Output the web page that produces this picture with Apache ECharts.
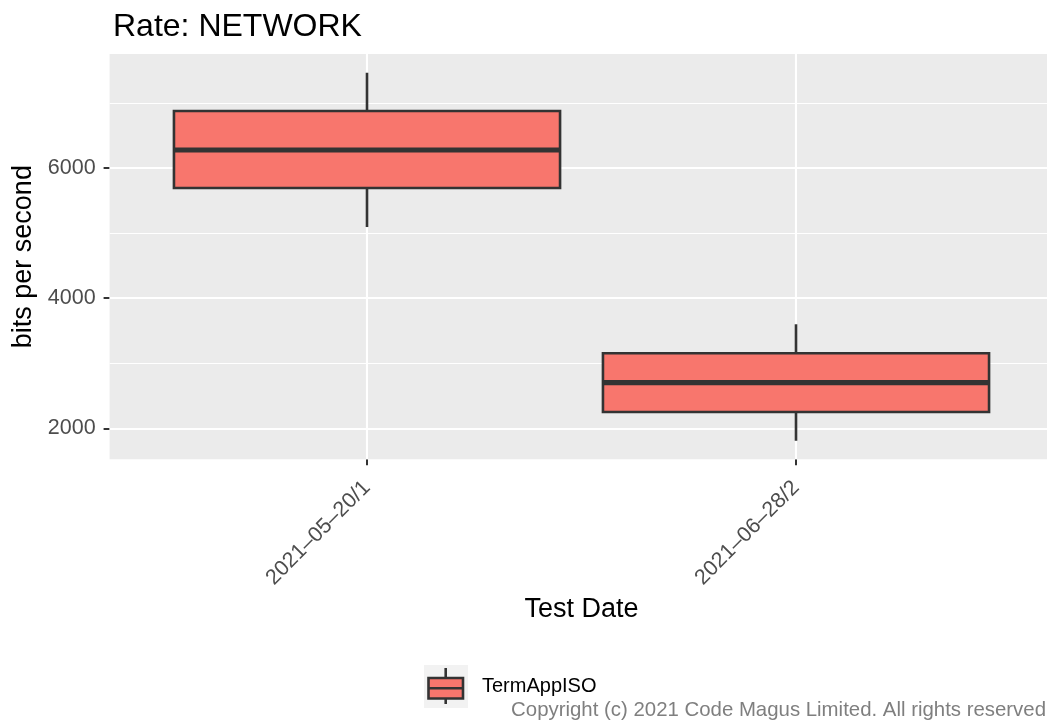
<!DOCTYPE html>
<html>
<head>
<meta charset="utf-8">
<script src="https://cdn.jsdelivr.net/npm/echarts@6/dist/echarts.min.js"></script>
<style>
  html, body { margin: 0; padding: 0; background: #fff; }
  #chart { width: 1047px; height: 727px; }
</style>
</head>
<body>
<div id="chart"></div>
<script>
// box statistics per test date (bits per second)
const categories = ['2021–05–20/1', '2021–06–28/2'];
const lowWhisker = [5093, 1809];
const lowerQuartile = [5693, 2250];
const medians = [6277, 2702];
const upperQuartile = [6876, 3154];
const highWhisker = [7464, 3599];

const yMajor = [2000, 4000, 6000];
const yMinor = [3000, 5000, 7000];
const seriesName = 'TermAppISO';

const FONT = '"Liberation Sans", Arial, Helvetica, sans-serif';
const FILL = '#F8766D';
const INK = '#333333';

const boxData = categories.map((c, i) => [
  i + 1, lowWhisker[i], lowerQuartile[i], medians[i], upperQuartile[i], highWhisker[i]
]);

// grid lines (ggplot style) as markLines
const gridLines = [];
yMinor.forEach(v => gridLines.push({ yAxis: v, lineStyle: { width: 1.1 } }));
yMajor.forEach(v => gridLines.push({ yAxis: v, lineStyle: { width: 2.1 } }));
categories.forEach((c, i) => gridLines.push({ xAxis: i + 1, lineStyle: { width: 2.1 } }));

const renderBox = (params, api) => {
  const x = api.value(0);
  const half = api.size([0.9, 0])[0] / 2;
  const pMin = api.coord([x, api.value(1)]);
  const pQ1 = api.coord([x, api.value(2)]);
  const pMed = api.coord([x, api.value(3)]);
  const pQ3 = api.coord([x, api.value(4)]);
  const pMax = api.coord([x, api.value(5)]);
  const lw = { stroke: INK, lineWidth: 2.6 };
  return {
    type: 'group',
    children: [
      { type: 'line', shape: { x1: pMax[0], y1: pMax[1], x2: pQ3[0], y2: pQ3[1] }, style: lw },
      { type: 'line', shape: { x1: pQ1[0], y1: pQ1[1], x2: pMin[0], y2: pMin[1] }, style: lw },
      {
        type: 'rect',
        shape: { x: pQ3[0] - half, y: pQ3[1], width: half * 2, height: pQ1[1] - pQ3[1] },
        style: { fill: FILL, stroke: INK, lineWidth: 2.6 }
      },
      { type: 'line', shape: { x1: pMed[0] - half, y1: pMed[1], x2: pMed[0] + half, y2: pMed[1] }, style: { stroke: INK, lineWidth: 5.2 } }
    ]
  };
};

const chart = echarts.init(document.getElementById('chart'));
chart.setOption({
  animation: false,
  textStyle: { fontFamily: FONT },
  title: {
    text: 'Rate: NETWORK',
    left: 108,
    top: 6,
    textStyle: { fontFamily: FONT, fontSize: 32, fontWeight: 'normal', color: '#000' }
  },
  grid: {
    left: 109.6,
    top: 54,
    width: 943.8,
    height: 405.3,
    show: true,
    backgroundColor: '#EBEBEB',
    borderWidth: 0,
    outerBoundsMode: 'none'
  },
  xAxis: {
    type: 'value',
    min: 0.4,
    max: 2.6,
    name: 'Test Date',
    nameLocation: 'middle',
    nameGap: 134,
    nameTextStyle: { fontFamily: FONT, fontSize: 27, color: '#000' },
    axisLine: { show: false },
    splitLine: { show: false },
    axisTick: { show: true, length: 6, customValues: [1, 2], lineStyle: { color: INK, width: 2 } },
    axisLabel: {
      customValues: [1, 2],
      rotate: 45,
      margin: 25,
      fontFamily: FONT,
      fontSize: 21.5,
      color: '#4D4D4D',
      formatter: v => categories[Math.round(v) - 1] || ''
    }
  },
  yAxis: {
    type: 'value',
    min: 1524,
    max: 7752,
    name: 'bits per second',
    nameLocation: 'middle',
    nameGap: 66,
    nameTextStyle: { fontFamily: FONT, fontSize: 27, color: '#000' },
    axisLine: { show: false },
    splitLine: { show: false },
    axisTick: { show: true, length: 6, customValues: yMajor, lineStyle: { color: INK, width: 2 } },
    axisLabel: {
      customValues: yMajor,
      margin: 14,
      fontFamily: FONT,
      fontSize: 21.5,
      color: '#4D4D4D',
      formatter: v => String(v)
    }
  },
  series: [
    {
      type: 'line',
      data: [],
      z: 1,
      silent: true,
      markLine: {
        z: 1,
        silent: true,
        symbol: ['none', 'none'],
        label: { show: false },
        lineStyle: { color: '#FFFFFF', type: 'solid' },
        data: gridLines
      }
    },
    {
      name: seriesName,
      type: 'custom',
      z: 10,
      renderItem: renderBox,
      encode: { x: 0, y: [1, 2, 3, 4, 5] },
      data: boxData
    }
  ],
  graphic: [
    { type: 'rect', left: 424, top: 665, shape: { width: 44, height: 43 }, style: { fill: '#F2F2F2' } },
    { type: 'line', shape: { x1: 445.7, y1: 668, x2: 445.7, y2: 704 }, style: { stroke: INK, lineWidth: 2.6 } },
    { type: 'rect', shape: { x: 428.5, y: 678, width: 34.5, height: 20.5 }, style: { fill: FILL, stroke: INK, lineWidth: 2.6 } },
    { type: 'line', shape: { x1: 428.5, y1: 688.2, x2: 463, y2: 688.2 }, style: { stroke: INK, lineWidth: 2.6 } },
    {
      type: 'text', x: 482, y: 686,
      style: { text: seriesName, font: '20px ' + FONT, fill: '#000', verticalAlign: 'middle' }
    },
    {
      type: 'text', x: 1046, y: 710,
      style: {
        text: 'Copyright (c) 2021 Code Magus Limited. All rights reserved',
        font: '20.4px ' + FONT, fill: '#7F7F7F', align: 'right', verticalAlign: 'middle'
      }
    }
  ]
});
</script>
</body>
</html>
